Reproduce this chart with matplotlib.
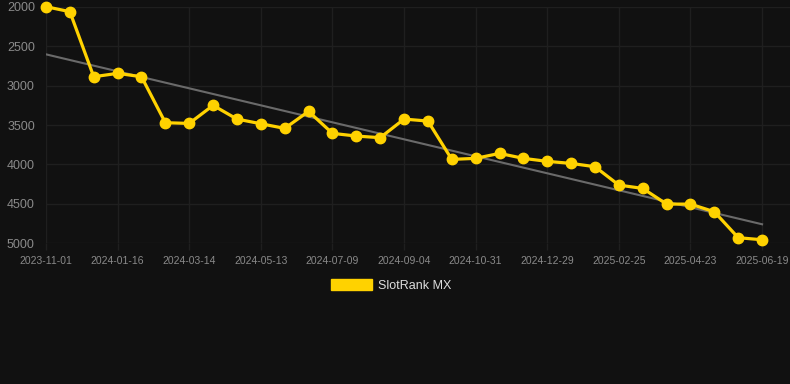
"""
Evolución del ranking SlotRank MX (eje Y invertido) con línea de tendencia.
"""
import numpy as np
import matplotlib
matplotlib.use("Agg")
import matplotlib.pyplot as plt
from matplotlib.patches import Patch

# Etiquetas del eje X (una cada 3 puntos)
etiquetas_x = ["2023-11-01", "2024-01-16", "2024-03-14", "2024-05-13", "2024-07-09",
               "2024-09-04", "2024-10-31", "2024-12-29", "2025-02-25", "2025-04-23",
               "2025-06-19"]

# Posiciones en el ranking
ranking = [2000, 2063, 2888, 2845, 2888, 3471, 3480, 3251, 3425, 3484, 3543,
           3327, 3606, 3640, 3661, 3425, 3450, 3936, 3923, 3860, 3923, 3961,
           3987, 4029, 4262, 4304, 4503, 4503, 4600, 4929, 4955]

ticks_y = [2000, 2500, 3000, 3500, 4000, 4500, 5000]

fondo = "#111111"
amarillo = "#FFD200"
gris_texto = "#8a8a8a"

plt.rcParams["font.family"] = ["Liberation Sans", "DejaVu Sans"]

fig = plt.figure(figsize=(7.9, 3.84), dpi=100, facecolor=fondo)
ax = fig.add_axes([46 / 790, 1 - 243.3 / 384, 1 - 46 / 790, (243.3 - 6.7) / 384])
ax.set_facecolor(fondo)

x = np.arange(len(ranking))

# Línea de tendencia (regresión lineal)
coef = np.polyfit(x, ranking, 1)
ax.plot(x, np.polyval(coef, x), color="#6a6a6a", linewidth=1.5, zorder=2)

ax.plot(x, ranking, color=amarillo, linewidth=2.3, marker="o", markersize=7.5,
        markerfacecolor=amarillo, markeredgecolor=amarillo, zorder=3, clip_on=False)

ax.set_xlim(0, 31.17)
ax.set_ylim(5000, 2000)
ax.set_yticks(ticks_y)
ax.set_yticklabels([str(v) for v in ticks_y])
ax.set_xticks(np.arange(0, len(ranking), 3))
ax.set_xticklabels(etiquetas_x)

ax.grid(True, color="#1f1f1f", linewidth=1.0)
for lado in ax.spines.values():
    lado.set_visible(False)
ax.tick_params(axis="y", length=0, pad=8, labelsize=9, labelcolor=gris_texto)
ax.tick_params(axis="x", length=5, width=1.0, color="#1f1f1f", pad=4,
               labelsize=7.5, labelcolor=gris_texto)

leyenda = [Patch(facecolor=amarillo, edgecolor=amarillo, label="SlotRank MX")]
fig.legend(handles=leyenda, loc="center", bbox_to_anchor=(391 / 790, 1 - 285.5 / 384),
           frameon=False, fontsize=9, labelcolor="#dddddd", handlelength=3.3,
           handleheight=1.0, handletextpad=0.5)

fig.savefig("out.png", dpi=100, facecolor=fondo)
